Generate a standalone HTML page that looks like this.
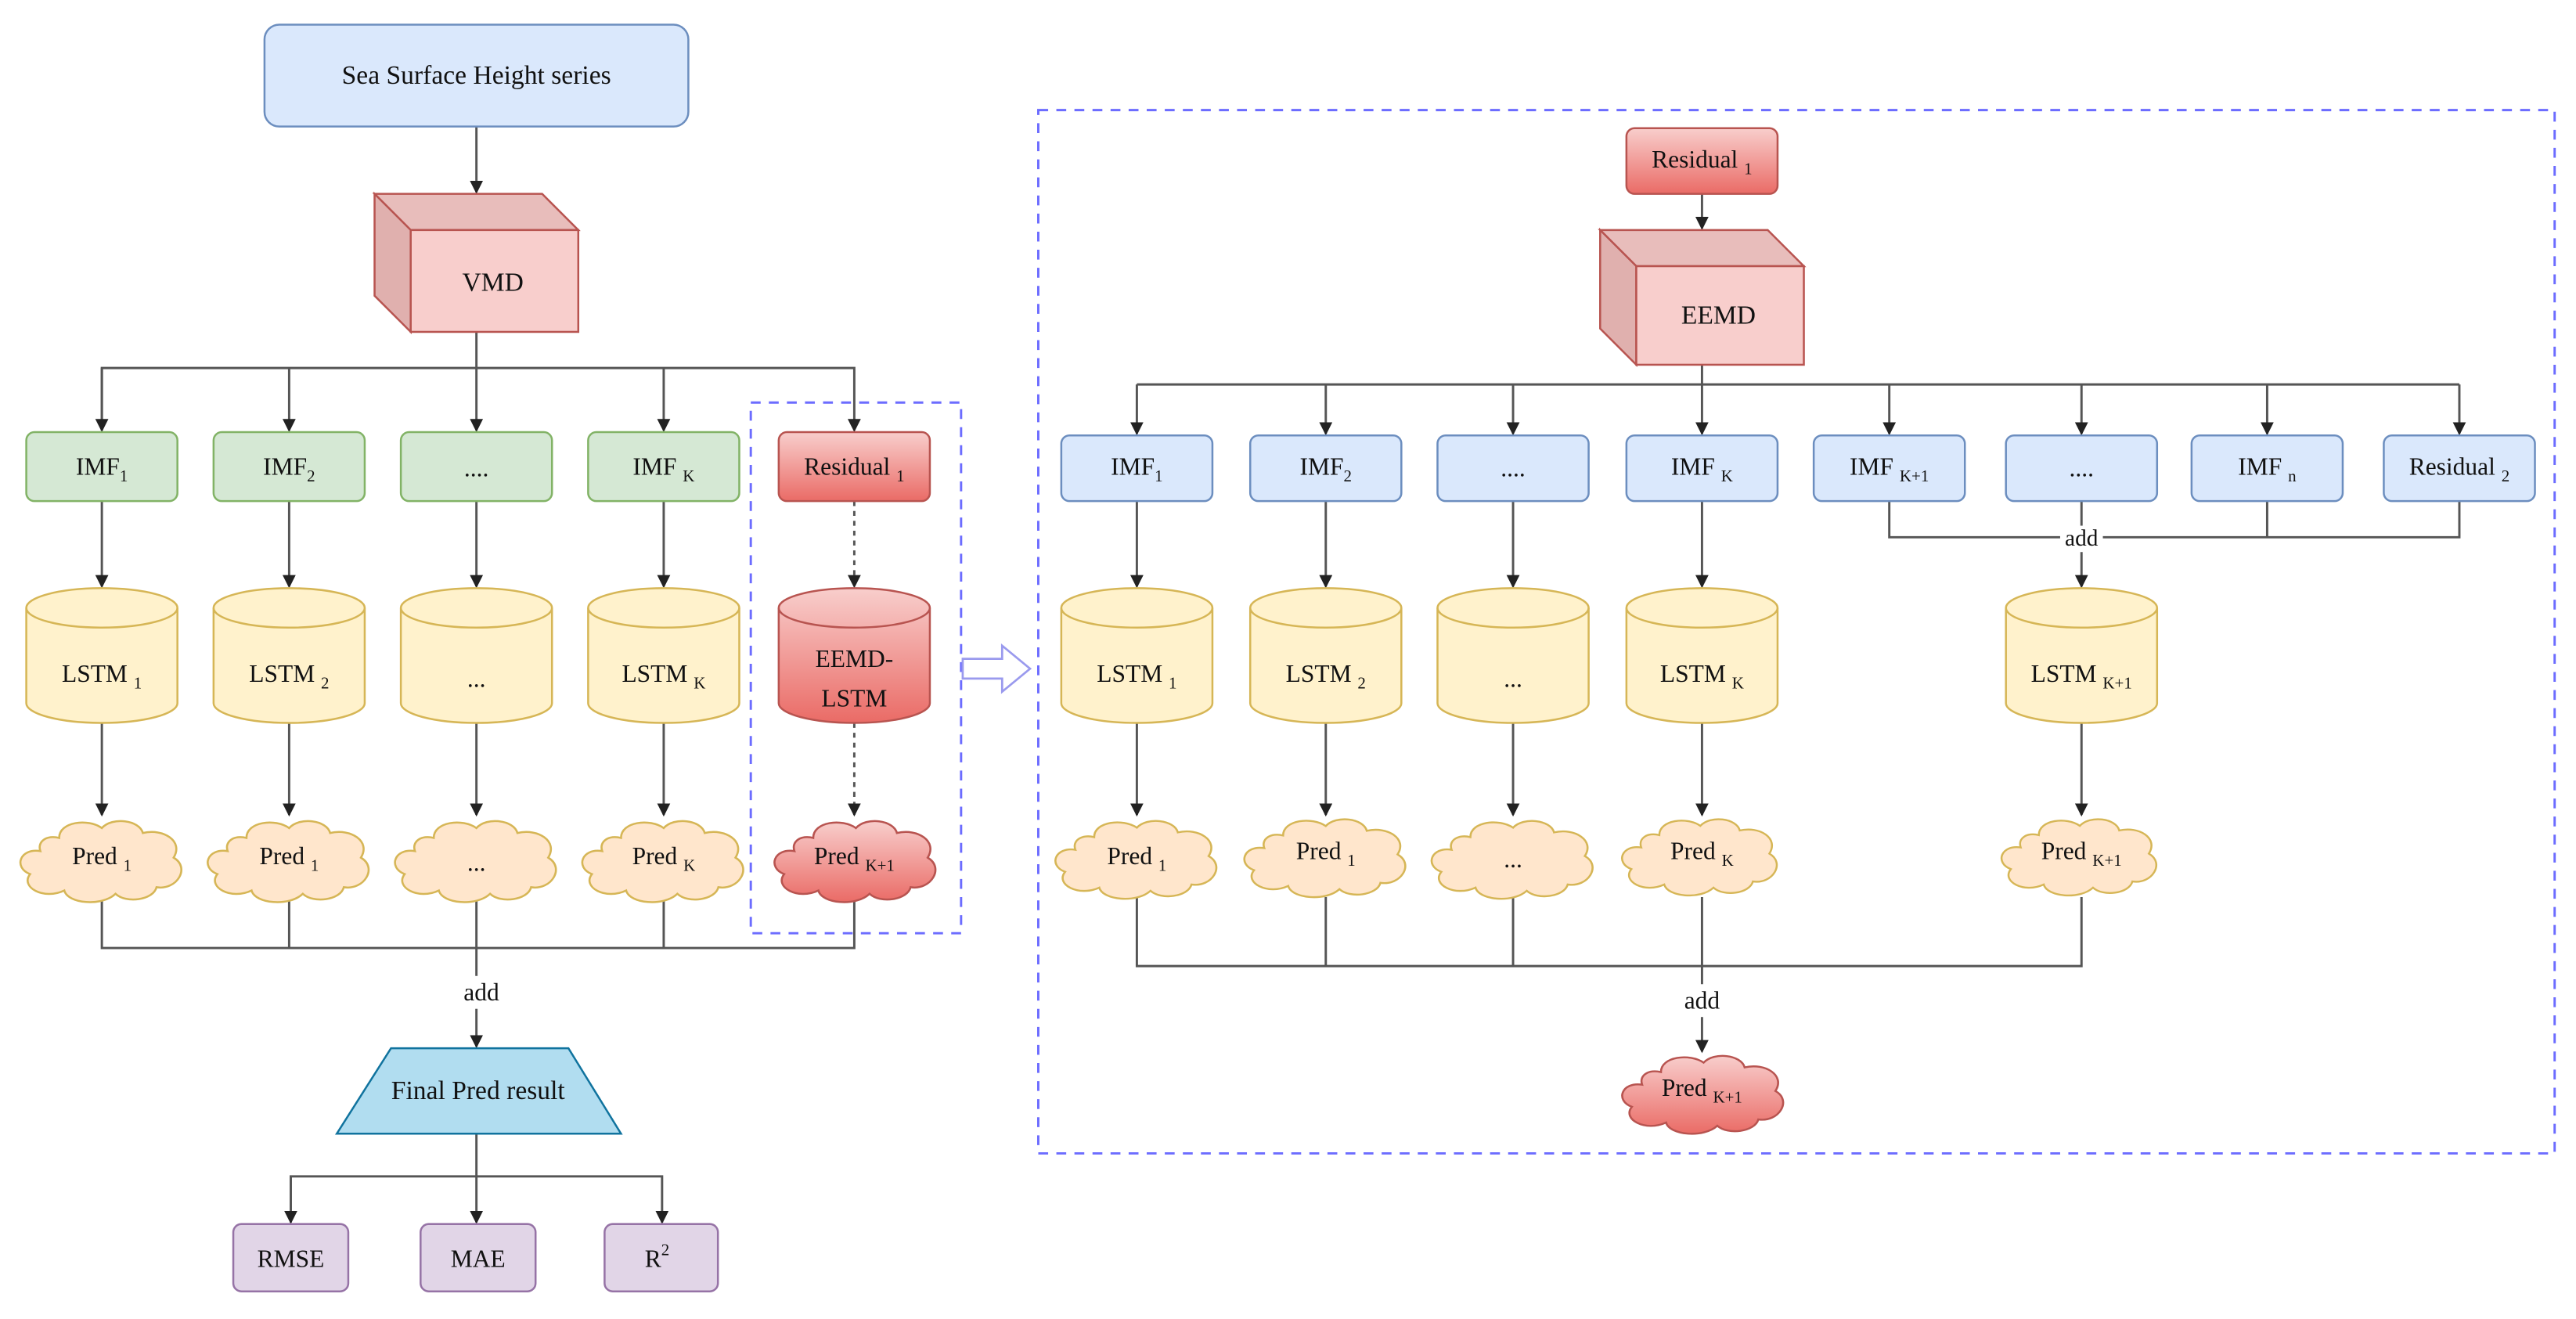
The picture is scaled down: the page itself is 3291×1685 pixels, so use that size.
<!DOCTYPE html>
<html><head><meta charset="utf-8">
<style>
html,body{margin:0;padding:0;background:#fff;}
svg{display:block;}
text{font-family:"Liberation Serif",serif;fill:#111;}
</style></head>
<body>
<svg width="3291" height="1685" viewBox="0 0 1568 802.8" preserveAspectRatio="none" xmlns="http://www.w3.org/2000/svg">
<defs>
<marker id="ah" markerWidth="8" markerHeight="8" refX="7" refY="4" orient="auto" markerUnits="userSpaceOnUse">
<path d="M0,0 L8,4 L0,8 Z" fill="#222"/></marker>
<linearGradient id="red" x1="0" y1="0" x2="0" y2="1"><stop offset="0" stop-color="#f8cecc"/><stop offset="1" stop-color="#ea6b66"/></linearGradient>
<path id="cloud" d="M25,12 C25,2 42,0 50,6 C56,-1 72,1 74,9 C86,6 98,14 92,24 C102,30 94,44 82,42 C80,50 64,52 58,46 C50,54 30,52 28,44 C16,50 2,42 8,34 C-2,30 2,18 14,20 C12,14 18,10 25,12 Z"/>
<g id="cylY"><path d="M0,12 a46,12 0 0 1 92,0 v58 a46,12 0 0 1 -92,0 z" fill="#fff2cc" stroke="#d6b656"/><path d="M0,12 a46,12 0 0 0 92,0" fill="none" stroke="#d6b656"/></g>
</defs>

<g stroke="#555" stroke-width="1.4" fill="none">
<line x1="290" y1="77" x2="290" y2="117" marker-end="url(#ah)"/>
<line x1="290" y1="202" x2="290" y2="262" marker-end="url(#ah)"/>
<polyline points="62,262 62,224 520,224 520,262" marker-end="url(#ah)"/>
<line x1="62" y1="224" x2="62" y2="262" marker-end="url(#ah)"/>
<line x1="176" y1="224" x2="176" y2="262" marker-end="url(#ah)"/>
<line x1="404" y1="224" x2="404" y2="262" marker-end="url(#ah)"/>
<line x1="62" y1="305" x2="62" y2="357" marker-end="url(#ah)"/>
<line x1="176" y1="305" x2="176" y2="357" marker-end="url(#ah)"/>
<line x1="290" y1="305" x2="290" y2="357" marker-end="url(#ah)"/>
<line x1="404" y1="305" x2="404" y2="357" marker-end="url(#ah)"/>
<line x1="520" y1="305" x2="520" y2="357" stroke-dasharray="3,3" marker-end="url(#ah)"/>
<line x1="62" y1="440" x2="62" y2="496" marker-end="url(#ah)"/>
<line x1="176" y1="440" x2="176" y2="496" marker-end="url(#ah)"/>
<line x1="290" y1="440" x2="290" y2="496" marker-end="url(#ah)"/>
<line x1="404" y1="440" x2="404" y2="496" marker-end="url(#ah)"/>
<line x1="520" y1="440" x2="520" y2="496" stroke-dasharray="3,3" marker-end="url(#ah)"/>
<polyline points="62,548 62,577 520,577 520,548"/>
<line x1="176" y1="548" x2="176" y2="577"/>
<line x1="290" y1="548" x2="290" y2="577"/>
<line x1="404" y1="548" x2="404" y2="577"/>
<line x1="290" y1="577" x2="290" y2="594"/>
<line x1="290" y1="614" x2="290" y2="637" marker-end="url(#ah)"/>
<line x1="290" y1="690" x2="290" y2="716"/>
<polyline points="177,744 177,716 403,716 403,744" marker-end="url(#ah)"/>
<line x1="177" y1="716" x2="177" y2="744" marker-end="url(#ah)"/>
<line x1="290" y1="716" x2="290" y2="744" marker-end="url(#ah)"/>

<line x1="1036" y1="118" x2="1036" y2="139" marker-end="url(#ah)"/>
<line x1="1036" y1="222" x2="1036" y2="264" marker-end="url(#ah)"/>
<line x1="692" y1="234" x2="1497" y2="234"/>
<line x1="692" y1="234" x2="692" y2="264" marker-end="url(#ah)"/>
<line x1="807" y1="234" x2="807" y2="264" marker-end="url(#ah)"/>
<line x1="921" y1="234" x2="921" y2="264" marker-end="url(#ah)"/>
<line x1="1150" y1="234" x2="1150" y2="264" marker-end="url(#ah)"/>
<line x1="1267" y1="234" x2="1267" y2="264" marker-end="url(#ah)"/>
<line x1="1380" y1="234" x2="1380" y2="264" marker-end="url(#ah)"/>
<line x1="1497" y1="234" x2="1497" y2="264" marker-end="url(#ah)"/>
<line x1="692" y1="305" x2="692" y2="357" marker-end="url(#ah)"/>
<line x1="807" y1="305" x2="807" y2="357" marker-end="url(#ah)"/>
<line x1="921" y1="305" x2="921" y2="357" marker-end="url(#ah)"/>
<line x1="1036" y1="305" x2="1036" y2="357" marker-end="url(#ah)"/>
<polyline points="1150,305 1150,327 1497,327 1497,305"/>
<line x1="1380" y1="305" x2="1380" y2="327"/>
<line x1="1267" y1="305" x2="1267" y2="320"/>
<line x1="1267" y1="336" x2="1267" y2="357" marker-end="url(#ah)"/>
<line x1="692" y1="440" x2="692" y2="496" marker-end="url(#ah)"/>
<line x1="807" y1="440" x2="807" y2="496" marker-end="url(#ah)"/>
<line x1="921" y1="440" x2="921" y2="496" marker-end="url(#ah)"/>
<line x1="1036" y1="440" x2="1036" y2="496" marker-end="url(#ah)"/>
<line x1="1267" y1="440" x2="1267" y2="496" marker-end="url(#ah)"/>
<polyline points="692,546 692,588 1267,588 1267,546"/>
<line x1="807" y1="546" x2="807" y2="588"/>
<line x1="921" y1="546" x2="921" y2="588"/>
<line x1="1036" y1="546" x2="1036" y2="599"/>
<line x1="1036" y1="619" x2="1036" y2="640" marker-end="url(#ah)"/>
</g>

<rect x="457" y="245" width="128" height="323" fill="none" stroke="#6c6cff" stroke-width="1.4" stroke-dasharray="6,5"/>
<rect x="632" y="67" width="923" height="635" fill="none" stroke="#6c6cff" stroke-width="1.4" stroke-dasharray="6,5"/>
<path d="M586,401 L610,401 L610,393 L627,407 L610,421 L610,413 L586,413 Z" fill="#fff" stroke="#9a9aee" stroke-width="1.3"/>

<rect x="161" y="15" width="258" height="62" rx="9" fill="#dae8fc" stroke="#6c8ebf" stroke-width="1.2"/>
<text x="290" y="51" font-size="16" text-anchor="middle">Sea Surface Height series</text>

<g stroke="#b85450" stroke-width="1.2">
<path d="M228,118 L330,118 L352,140 L250,140 Z" fill="#e8bdbb"/>
<path d="M228,118 L250,140 L250,202 L228,180 Z" fill="#e0b0ae"/>
<rect x="250" y="140" width="102" height="62" fill="#f8cecc"/>
</g>
<text x="300" y="177" font-size="16" text-anchor="middle">VMD</text>

<g stroke="#b85450" stroke-width="1.2">
<path d="M974,140 L1076,140 L1098,162 L996,162 Z" fill="#e8bdbb"/>
<path d="M974,140 L996,162 L996,222 L974,200 Z" fill="#e0b0ae"/>
<rect x="996" y="162" width="102" height="60" fill="#f8cecc"/>
</g>
<text x="1046" y="197" font-size="16" text-anchor="middle">EEMD</text>

<rect x="990" y="78" width="92" height="40" rx="5" fill="url(#red)" stroke="#b85450" stroke-width="1.2"/>
<text x="1036" y="102" font-size="15" text-anchor="middle">Residual <tspan font-size="10" dy="4">1</tspan></text>

<g stroke-width="1.2">
<rect x="16" y="263" width="92" height="42" rx="5" fill="#d5e8d4" stroke="#82b366"/>
<rect x="130" y="263" width="92" height="42" rx="5" fill="#d5e8d4" stroke="#82b366"/>
<rect x="244" y="263" width="92" height="42" rx="5" fill="#d5e8d4" stroke="#82b366"/>
<rect x="358" y="263" width="92" height="42" rx="5" fill="#d5e8d4" stroke="#82b366"/>
<rect x="474" y="263" width="92" height="42" rx="5" fill="url(#red)" stroke="#b85450"/>
</g>
<g font-size="15" text-anchor="middle">
<text x="62" y="289">IMF<tspan font-size="10" dy="4">1</tspan></text>
<text x="176" y="289">IMF<tspan font-size="10" dy="4">2</tspan></text>
<text x="290" y="290">....</text>
<text x="404" y="289">IMF <tspan font-size="10" dy="4">K</tspan></text>
<text x="520" y="289">Residual <tspan font-size="10" dy="4">1</tspan></text>
</g>

<g stroke-width="1.2" fill="#dae8fc" stroke="#6c8ebf">
<rect x="646" y="265" width="92" height="40" rx="5"/>
<rect x="761" y="265" width="92" height="40" rx="5"/>
<rect x="875" y="265" width="92" height="40" rx="5"/>
<rect x="990" y="265" width="92" height="40" rx="5"/>
<rect x="1104" y="265" width="92" height="40" rx="5"/>
<rect x="1221" y="265" width="92" height="40" rx="5"/>
<rect x="1334" y="265" width="92" height="40" rx="5"/>
<rect x="1451" y="265" width="92" height="40" rx="5"/>
</g>
<g font-size="15" text-anchor="middle">
<text x="692" y="289">IMF<tspan font-size="10" dy="4">1</tspan></text>
<text x="807" y="289">IMF<tspan font-size="10" dy="4">2</tspan></text>
<text x="921" y="290">....</text>
<text x="1036" y="289">IMF <tspan font-size="10" dy="4">K</tspan></text>
<text x="1150" y="289">IMF <tspan font-size="10" dy="4">K+1</tspan></text>
<text x="1267" y="290">....</text>
<text x="1380" y="289">IMF <tspan font-size="10" dy="4">n</tspan></text>
<text x="1497" y="289">Residual <tspan font-size="10" dy="4">2</tspan></text>
</g>
<rect x="1254" y="320" width="26" height="14" fill="#fff"/>
<text x="1267" y="332" font-size="14" text-anchor="middle">add</text>

<g stroke-width="1.2">
<use href="#cylY" transform="translate(16,358)"/>
<use href="#cylY" transform="translate(130,358)"/>
<use href="#cylY" transform="translate(244,358)"/>
<use href="#cylY" transform="translate(358,358)"/>
<use href="#cylY" transform="translate(646,358)"/>
<use href="#cylY" transform="translate(761,358)"/>
<use href="#cylY" transform="translate(875,358)"/>
<use href="#cylY" transform="translate(990,358)"/>
<use href="#cylY" transform="translate(1221,358)"/>
<path d="M474,370 a46,12 0 0 1 92,0 v58 a46,12 0 0 1 -92,0 z" fill="url(#red)" stroke="#b85450"/>
<path d="M474,370 a46,12 0 0 0 92,0" fill="none" stroke="#b85450"/>
</g>
<g font-size="15" text-anchor="middle">
<text x="62" y="415">LSTM <tspan font-size="10" dy="4">1</tspan></text>
<text x="176" y="415">LSTM <tspan font-size="10" dy="4">2</tspan></text>
<text x="290" y="418">...</text>
<text x="404" y="415">LSTM <tspan font-size="10" dy="4">K</tspan></text>
<text x="520" y="406">EEMD-</text>
<text x="520" y="430">LSTM</text>
<text x="692" y="415">LSTM <tspan font-size="10" dy="4">1</tspan></text>
<text x="807" y="415">LSTM <tspan font-size="10" dy="4">2</tspan></text>
<text x="921" y="418">...</text>
<text x="1036" y="415">LSTM <tspan font-size="10" dy="4">K</tspan></text>
<text x="1267" y="415">LSTM <tspan font-size="10" dy="4">K+1</tspan></text>
</g>

<g stroke-width="1.2">
<g fill="#ffe6cc" stroke="#d6b656">
<use href="#cloud" transform="translate(10,498) scale(1.04,1.0)"/>
<use href="#cloud" transform="translate(124,498) scale(1.04,1.0)"/>
<use href="#cloud" transform="translate(238,498) scale(1.04,1.0)"/>
<use href="#cloud" transform="translate(352,498) scale(1.04,1.0)"/>
<use href="#cloud" transform="translate(640,498) scale(1.04,0.96)"/>
<use href="#cloud" transform="translate(755,497) scale(1.04,0.96)"/>
<use href="#cloud" transform="translate(869,498) scale(1.04,0.96)"/>
<use href="#cloud" transform="translate(985,497) scale(1.0,0.94)"/>
<use href="#cloud" transform="translate(1216,497) scale(1.0,0.94)"/>
</g>
<g fill="url(#red)" stroke="#b85450">
<use href="#cloud" transform="translate(469,498) scale(1.04,1.0)"/>
<use href="#cloud" transform="translate(985,641) scale(1.04,0.96)"/>
</g>
</g>
<g font-size="15" text-anchor="middle">
<text x="62" y="526">Pred <tspan font-size="10" dy="4">1</tspan></text>
<text x="176" y="526">Pred <tspan font-size="10" dy="4">1</tspan></text>
<text x="290" y="530">...</text>
<text x="404" y="526">Pred <tspan font-size="10" dy="4">K</tspan></text>
<text x="520" y="526">Pred <tspan font-size="10" dy="4">K+1</tspan></text>
<text x="692" y="526">Pred <tspan font-size="10" dy="4">1</tspan></text>
<text x="807" y="523">Pred <tspan font-size="10" dy="4">1</tspan></text>
<text x="921" y="528">...</text>
<text x="1036" y="523">Pred <tspan font-size="10" dy="4">K</tspan></text>
<text x="1267" y="523">Pred <tspan font-size="10" dy="4">K+1</tspan></text>
<text x="1036" y="667">Pred <tspan font-size="10" dy="4">K+1</tspan></text>
<text x="293" y="609" font-size="15">add</text>
<text x="1036" y="614" font-size="15">add</text>
</g>

<path d="M238,638 L346,638 L378,690 L205,690 Z" fill="#b1ddf0" stroke="#10739e" stroke-width="1.2"/>
<text x="291" y="669" font-size="16" text-anchor="middle">Final Pred result</text>

<g fill="#e1d5e7" stroke="#9673a6" stroke-width="1.2">
<rect x="142" y="745" width="70" height="41" rx="5"/>
<rect x="256" y="745" width="70" height="41" rx="5"/>
<rect x="368" y="745" width="69" height="41" rx="5"/>
</g>
<g font-size="15" text-anchor="middle">
<text x="177" y="771">RMSE</text>
<text x="291" y="771">MAE</text>
<text x="400" y="771">R<tspan font-size="10" dy="-7">2</tspan></text>
</g>
</svg>
</body></html>
